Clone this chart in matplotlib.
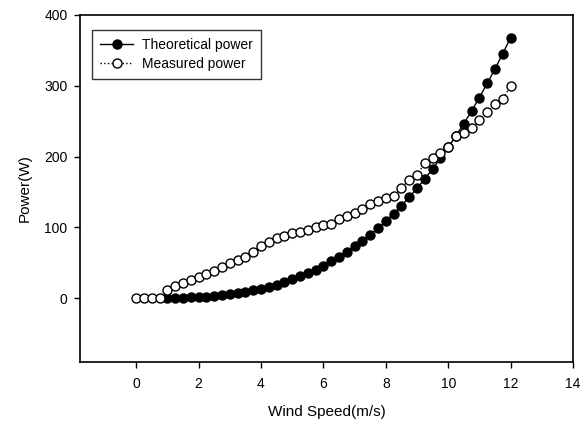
import numpy as np
import matplotlib.pyplot as plt

plt.rcParams['font.family'] = ['Liberation Sans', 'DejaVu Sans']

# wind speed (m/s), step 0.25
v_theo = [1.0, 1.25, 1.5, 1.75, 2.0, 2.25, 2.5, 2.75, 3.0, 3.25, 3.5, 3.75,
          4.0, 4.25, 4.5, 4.75, 5.0, 5.25, 5.5, 5.75, 6.0, 6.25, 6.5, 6.75,
          7.0, 7.25, 7.5, 7.75, 8.0, 8.25, 8.5, 8.75, 9.0, 9.25, 9.5, 9.75,
          10.0, 10.25, 10.5, 10.75, 11.0, 11.25, 11.5, 11.75, 12.0]
p_theo = [0.2, 0.4, 0.7, 1.1, 1.7, 2.4, 3.3, 4.4, 5.8, 7.3, 9.1, 11.2,
          13.6, 16.4, 19.4, 22.8, 26.6, 30.8, 35.4, 40.5, 46.0, 52.0, 58.5, 65.5,
          73.1, 81.2, 89.9, 99.1, 109.1, 119.6, 130.8, 142.7, 155.3, 168.6, 182.6, 197.4,
          213.0, 229.4, 246.6, 264.6, 283.5, 303.3, 324.0, 345.5, 368.1]

v_meas = [0.0, 0.25, 0.5, 0.75] + v_theo
p_meas = [0, 0, 0, 0,
          11, 18, 22, 26, 30, 34, 38, 44, 50, 54, 58, 66,
          74, 79, 85, 88, 92, 94, 97, 100, 104, 105, 112, 116,
          120, 126, 133, 137, 141, 144, 156, 167, 174, 191, 198, 205,
          214, 229, 233, 240, 252, 263, 274, 281, 300]

fig = plt.figure(figsize=(5.8, 4.21), dpi=100)
ax = fig.add_axes([80/580, 1-362/421, 493/580, 347/421])

ax.plot(v_theo, p_theo, '-', color='black', lw=1, marker='o', ms=6.5,
        mfc='black', mec='black', label='Theoretical power', zorder=3)
ax.plot(v_meas, p_meas, ':', color='black', lw=1, marker='o', ms=6.5,
        mfc='white', mec='black', mew=1, label='Measured power', zorder=4)

ax.set_xlim(-1.8, 14)
ax.set_ylim(-90, 400)
ax.set_xticks([0, 2, 4, 6, 8, 10, 12, 14])
ax.set_yticks([0, 100, 200, 300, 400])
ax.tick_params(direction='out', length=4, width=1, labelsize=10, top=False, right=False)
ax.tick_params(axis='x', pad=7)
ax.tick_params(axis='y', pad=5)
for s in ax.spines.values():
    s.set_linewidth(1.2)

ax.set_xlabel('Wind Speed(m/s)', fontsize=11, labelpad=10)
ax.set_ylabel('Power(W)', fontsize=11, labelpad=9)

leg = ax.legend(loc='upper left', bbox_to_anchor=(0.024, 0.957), borderaxespad=0,
                fontsize=10, frameon=True, fancybox=False, handlelength=2.4,
                borderpad=0.6, labelspacing=0.35, handletextpad=0.6)
leg.get_frame().set_edgecolor('black')
leg.get_frame().set_linewidth(1)

fig.savefig('out.png', dpi=100)
